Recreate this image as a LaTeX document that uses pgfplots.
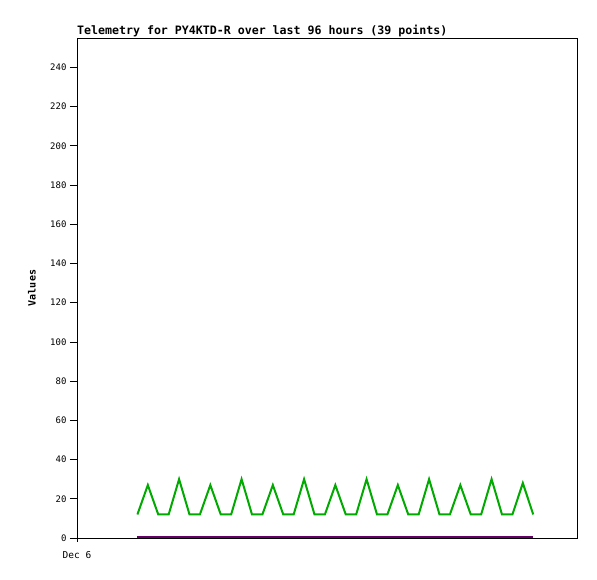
\documentclass[border=0pt]{standalone}
\usepackage{fontspec}
\setmainfont{DejaVu Sans Mono}
\usepackage{pgfplots}
\pgfplotsset{compat=1.18}
\definecolor{tgreen}{RGB}{0,170,0}
\definecolor{tpurple}{RGB}{102,0,102}
\begin{document}
\begin{tikzpicture}[x=1pt,y=1pt]
\useasboundingbox (0,0) rectangle (597,579);
\begin{axis}[
  at={(77pt,41pt)}, anchor=south west,
  scale only axis, width=500pt, height=500pt,
  xmin=0, xmax=96, ymin=0, ymax=255,
  xtick={0}, xticklabels={Dec 6},
  ytick={0,20,...,240},
  xtick pos=bottom, ytick pos=left,
  tick align=outside,
  major tick length=7pt,
  xtick style={black, line width=0.8pt, yshift=3.5pt},
  ytick style={black, line width=0.8pt},
  axis line style={line width=0.8pt},
  /pgf/number format/assume math mode=true,
  ticklabel style={font=\fontsize{9}{9}\selectfont},
  xticklabel style={font=\fontsize{9.5}{10}\selectfont, yshift=-3pt},
  title={\textbf{Telemetry for PY4KTD-R over last 96 hours (39 points)}},
  every axis title shift=0pt,
  title style={font=\fontsize{11.6}{12}\selectfont, anchor=base west, at={(0,1)}, yshift=3pt, inner xsep=0pt, inner ysep=0pt},
  ylabel={\textbf{Values}},
  ylabel style={font=\fontsize{10.5}{11}\selectfont},
  every axis y label/.style={at={(-0.09,0.5)}, rotate=90, anchor=center},
]
\addplot[tgreen, line width=2pt, line join=miter] coordinates {
(11.6,12) (13.6,27) (15.6,12) (17.6,12) (19.6,30) (21.6,12) (23.6,12) (25.6,27)
(27.6,12) (29.6,12) (31.6,30) (33.6,12) (35.6,12) (37.6,27) (39.6,12) (41.6,12)
(43.6,30) (45.6,12) (47.6,12) (49.6,27) (51.6,12) (53.6,12) (55.6,30) (57.6,12)
(59.6,12) (61.6,27) (63.6,12) (65.6,12) (67.6,30) (69.6,12) (71.6,12) (73.6,27)
(75.6,12) (77.6,12) (79.6,30) (81.6,12) (83.6,12) (85.6,28) (87.6,12)
};
\addplot[tpurple, line width=1.8pt] coordinates {
(11.6,0.6) (13.6,0.6) (15.6,0.6) (17.6,0.6) (19.6,0.6) (21.6,0.6) (23.6,0.6) (25.6,0.6)
(27.6,0.6) (29.6,0.6) (31.6,0.6) (33.6,0.6) (35.6,0.6) (37.6,0.6) (39.6,0.6) (41.6,0.6)
(43.6,0.6) (45.6,0.6) (47.6,0.6) (49.6,0.6) (51.6,0.6) (53.6,0.6) (55.6,0.6) (57.6,0.6)
(59.6,0.6) (61.6,0.6) (63.6,0.6) (65.6,0.6) (67.6,0.6) (69.6,0.6) (71.6,0.6) (73.6,0.6)
(75.6,0.6) (77.6,0.6) (79.6,0.6) (81.6,0.6) (83.6,0.6) (85.6,0.6) (87.6,0.6)
};
\end{axis}
\end{tikzpicture}
\end{document}
